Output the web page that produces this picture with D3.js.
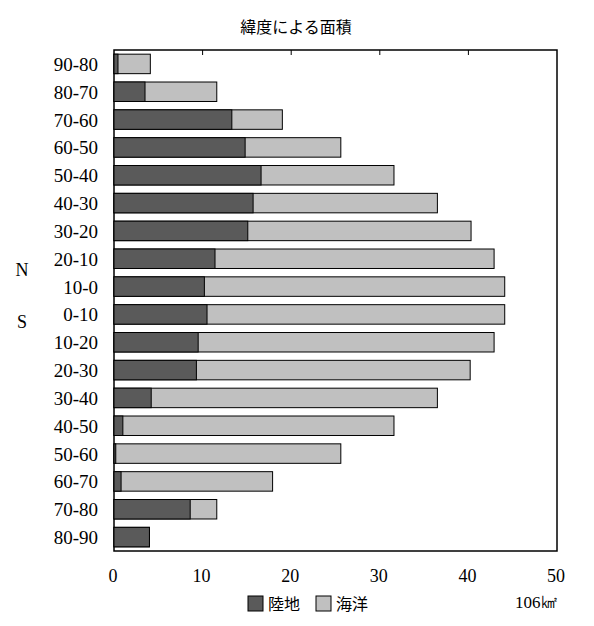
<!DOCTYPE html>
<html><head><meta charset="utf-8">
<script src="https://cdn.jsdelivr.net/npm/d3@7"></script>
<style>body{margin:0;background:#fff}text{font-family:"Liberation Serif","DejaVu Serif",serif}</style>
</head><body>
<svg id="chart" width="594" height="626"></svg>
<script>
var bands = ["90-80","80-70","70-60","60-50","50-40","40-30","30-20","20-10","10-0",
             "0-10","10-20","20-30","30-40","40-50","50-60","60-70","70-80","80-90"];
var land  = [0.45,3.5,13.3,14.8,16.6,15.7,15.1,11.4,10.2,10.5,9.5,9.3,4.2,1.0,0.2,0.8,8.6,4.0];
var total = [4.1,11.6,19.0,25.6,31.6,36.5,40.3,42.9,44.1,44.1,42.9,40.2,36.5,31.6,25.6,17.9,11.6,4.0];
var ticks = [0,10,20,30,40,50];

var svg = d3.select("#chart");
var plotL = 114, plotR = 557, plotT = 50, plotB = 551;
var x = d3.scaleLinear().domain([0,50]).range([plotL,plotR]);
var y = d3.scaleBand().domain(bands).range([plotT,plotB]).paddingInner(0.3).paddingOuter(0.15);

svg.append("text").attr("x",296).attr("y",33).attr("text-anchor","middle")
  .style("font-family","'Noto Sans CJK JP'").style("font-size","16px").text("緯度による面積");

svg.append("rect").attr("x",plotL).attr("y",plotT).attr("width",plotR-plotL).attr("height",plotB-plotT)
  .attr("fill","none").attr("stroke","#000").attr("stroke-width",1.5);

// top inner ticks
svg.selectAll(".tk").data(ticks.slice(1,-1)).enter().append("line")
  .attr("x1",d=>x(d)).attr("x2",d=>x(d)).attr("y1",plotT).attr("y2",plotT+5).attr("stroke","#000");

bands.forEach(function(b,i){
  svg.append("rect").attr("x",x(0)).attr("y",y(b)).attr("width",x(total[i])-x(0)).attr("height",y.bandwidth())
    .attr("fill","#c0c0c0").attr("stroke","#000").attr("stroke-width",1);
  svg.append("rect").attr("x",x(0)).attr("y",y(b)).attr("width",x(land[i])-x(0)).attr("height",y.bandwidth())
    .attr("fill","#5a5a5a").attr("stroke","#000").attr("stroke-width",1);
  svg.append("text").attr("x",98).attr("y",y(b)+y.bandwidth()/2+7).attr("text-anchor","end")
    .style("font-size","19px").text(b);
});

svg.selectAll(".xl").data(ticks).enter().append("text")
  .attr("x",d=>x(d)-1).attr("y",582).attr("text-anchor","middle").style("font-size","18px").text(d=>d);

svg.append("text").attr("x",22).attr("y",276).attr("text-anchor","middle").style("font-size","18px").text("N");
svg.append("text").attr("x",22).attr("y",328).attr("text-anchor","middle").style("font-size","18px").text("S");

svg.append("rect").attr("x",248).attr("y",596).attr("width",15).attr("height",15).attr("fill","#5a5a5a").attr("stroke","#000");
svg.append("text").attr("x",268).attr("y",610).style("font-family","'Noto Sans CJK JP'").style("font-size","16px").text("陸地");
svg.append("rect").attr("x",316).attr("y",596).attr("width",15).attr("height",15).attr("fill","#c0c0c0").attr("stroke","#000");
svg.append("text").attr("x",336).attr("y",610).style("font-family","'Noto Sans CJK JP'").style("font-size","16px").text("海洋");
svg.append("text").attr("x",515).attr("y",608).style("font-size","17px").text("106㎢");
</script>
</body></html>
